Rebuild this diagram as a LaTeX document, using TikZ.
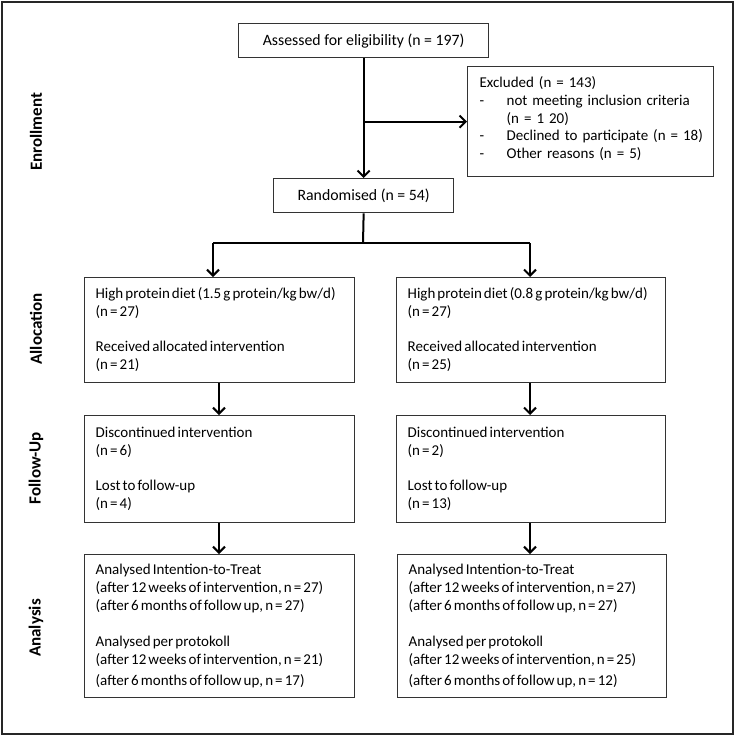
\documentclass[tikz,border=0pt]{standalone}
\usepackage{fontspec}
\usepackage{array}
\setmainfont{Carlito}
\newfontfamily\labfont{Carlito}
\usetikzlibrary{arrows.meta}
\newcommand{\tightsp}{\spaceskip=2.1pt plus 1pt minus 0.5pt\relax}
\newcommand{\boxfont}{\fontsize{15}{18}\selectfont\tightsp}
\newcommand{\ctrfont}{\fontsize{15.8}{18}\selectfont}
\newcommand{\exclfont}{\fontsize{15}{17.75}\selectfont\spaceskip=2.3pt plus 1pt minus 0.5pt\relax}
\newcommand{\lines}[1]{\begin{tabular}{@{}>{\tightsp}l@{}}#1\end{tabular}}
\begin{document}
\begin{tikzpicture}[x=1pt,y=-1pt,
  box/.style={draw=black!80, line width=1.3pt, anchor=north west, inner xsep=11pt, inner ysep=0pt,
    font=\boxfont},
  ctr/.style={box, align=center, font=\ctrfont},
  lft/.style={box, align=left},
  arr/.style={line width=2pt, -{Straight Barb[length=6pt,width=12pt,line width=2pt]}},
  plain/.style={line width=2pt},
  lab/.style={font=\labfont\fontsize{17}{20}\bfseries\selectfont, rotate=90, inner sep=0pt}
]
\useasboundingbox (0,0) rectangle (735,736);
\draw[black!85, line width=1.5pt] (2,2) rectangle (733,734);

% side labels
\node[lab] (lenr) at (36,132) {Enrollment};
\node[lab] (lall) at (36,329) {Allocation};
\node[lab] (lfol) at (36,468) {Follow-Up};
\node[lab] (lana) at (36,628) {Analysis};

% enrollment
\node[ctr, minimum width=250pt, minimum height=34pt] (assess) at (238,23) {Assessed for eligibility (n = 197)};
\node[lft, minimum width=239pt, minimum height=110pt, text width=222pt, inner xsep=12pt,
  font=\exclfont] (excl) at (467,66)
 {\begin{tabular}{@{}l@{}}Excluded (n = 143)\\
  \makebox[27pt][l]{-}not meeting inclusion criteria\\
  \hspace*{27pt}(n = 1 20)\\
  \makebox[27pt][l]{-}Declined to participate (n = 18)\\
  \makebox[27pt][l]{-}Other reasons (n = 5)\\[4pt]\end{tabular}};
\node[ctr, minimum width=180pt, minimum height=34pt] (rand) at (273,178) {Randomised (n = 54)};

% allocation
\node[lft, minimum width=270pt, minimum height=105pt, text width=248pt] (allocL) at (84,277)
 {\lines{High protein diet (1.5 g protein/kg bw/d)\\(n = 27)\\[17pt]Received allocated intervention\\(n = 21)}};
\node[lft, minimum width=269pt, minimum height=105pt, text width=247pt] (allocR) at (396,277)
 {\lines{High protein diet (0.8 g protein/kg bw/d)\\(n = 27)\\[17pt]Received allocated intervention\\(n = 25)}};

% follow-up
\node[lft, minimum width=270pt, minimum height=107pt, text width=248pt] (follL) at (84,415)
 {\lines{Discontinued intervention\\(n = 6)\\[17pt]Lost to follow-up\\(n = 4)}};
\node[lft, minimum width=269pt, minimum height=107pt, text width=247pt] (follR) at (396,415)
 {\lines{Discontinued intervention\\(n = 2)\\[17pt]Lost to follow-up\\(n = 13)}};

% analysis
\node[lft, minimum width=270pt, minimum height=143pt, text width=248pt] (anaL) at (84,554)
 {\lines{Analysed Intention-to-Treat\\(after 12 weeks of intervention, n = 27)\\(after 6 months of follow up, n = 27)\\[18pt]Analysed per protokoll\\(after 12 weeks of intervention, n = 21)\\[3pt](after 6 months of follow up, n = 17)}};
\node[lft, minimum width=269pt, minimum height=143pt, text width=247pt] (anaR) at (397,554)
 {\lines{Analysed Intention-to-Treat\\(after 12 weeks of intervention, n = 27)\\(after 6 months of follow up, n = 27)\\[18pt]Analysed per protokoll\\(after 12 weeks of intervention, n = 25)\\[3pt](after 6 months of follow up, n = 12)}};

% connectors
\coordinate (branch) at (assess.south |- excl.west);
\draw[arr] (assess.south) -- (assess.south |- rand.north);
\draw[arr] (branch) -- (excl.west);
\coordinate (split) at (363,243);
\coordinate (splitL) at (213,243);
\coordinate (splitR) at (530,243);
\draw[plain] (rand.south) -- (split);
\draw[plain] (splitL) -- (splitR);
\draw[arr] (splitL) -- (splitL |- allocL.north);
\draw[arr] (splitR) -- (splitR |- allocR.north);
\coordinate (cL) at (219,0);
\coordinate (cR) at (530,0);
\draw[arr] (cL |- allocL.south) -- (cL |- follL.north);
\draw[arr] (cR |- allocR.south) -- (cR |- follR.north);
\draw[arr] (cL |- follL.south) -- (cL |- anaL.north);
\draw[arr] (cR |- follR.south) -- (cR |- anaR.north);
\end{tikzpicture}
\end{document}
